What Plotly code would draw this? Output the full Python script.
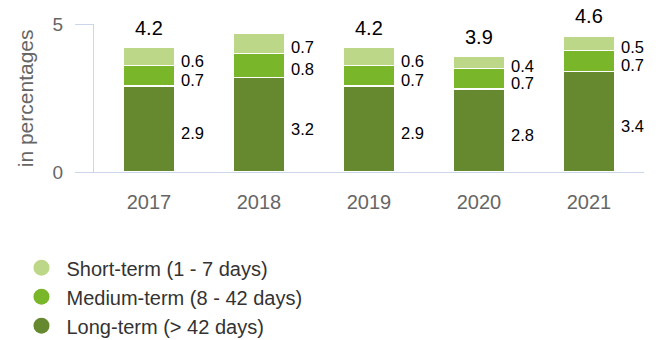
import plotly.graph_objects as go

years = ["2017", "2018", "2019", "2020", "2021"]
long_term = [2.9, 3.2, 2.9, 2.8, 3.4]
medium_term = [0.7, 0.8, 0.7, 0.7, 0.7]
short_term = [0.6, 0.7, 0.6, 0.4, 0.5]
# totals printed above the bars (none printed for 2018)
total_labels = ["4.2", "", "4.2", "3.9", "4.6"]

series = [
    ("Long-term (> 42 days)", long_term, "#66882f"),
    ("Medium-term (8 - 42 days)", medium_term, "#79b62a"),
    ("Short-term (1 - 7 days)", short_term, "#bcd787"),
]

AXIS = "#ccd6eb"
FONT = "Arial, Liberation Sans, sans-serif"

fig = go.Figure()
for name, vals, color in series:
    fig.add_trace(go.Bar(
        x=years, y=vals, name=name, showlegend=False,
        marker=dict(color=color, line=dict(color="white", width=1.5)),
        hoverinfo="y",
    ))

# legend entries with round symbols, short-term listed first
for name, vals, color in reversed(series):
    fig.add_trace(go.Scatter(
        x=[None], y=[None], mode="markers", name=name,
        marker=dict(symbol="circle", size=20, color=color),
    ))

annotations = []
for i, yr in enumerate(years):
    base = 0.0
    for name, vals, color in series:
        v = vals[i]
        annotations.append(dict(
            x=i, y=base + v / 2, text=f"{v:.1f}", showarrow=False,
            xanchor="left", yanchor="middle", xshift=30, yshift=-4,
            font=dict(size=16.5, color="#000000", family=FONT),
        ))
        base += v
    if total_labels[i]:
        annotations.append(dict(
            x=i, y=base, text=total_labels[i], showarrow=False,
            xanchor="center", yanchor="middle", yshift=20,
            font=dict(size=20, color="#000000", family=FONT),
        ))

# vertical axis title
annotations.append(dict(
    xref="paper", yref="paper", x=-0.125, y=0.5, text="in percentages",
    textangle=-90, showarrow=False, xanchor="center", yanchor="middle",
    font=dict(size=21, color="#666666", family=FONT),
))

fig.update_layout(
    width=659, height=340,
    margin=dict(l=94, r=15, t=24, b=168, autoexpand=False),
    barmode="stack", bargap=0.535,
    plot_bgcolor="white", paper_bgcolor="white",
    font=dict(family=FONT, color="#666666", size=20),
    annotations=annotations,
    showlegend=True,
    legend=dict(
        xref="container", yref="container", x=0.025, y=0.27,
        xanchor="left", yanchor="top", traceorder="normal",
        font=dict(size=20, color="#333333", family=FONT),
        itemsizing="trace", itemwidth=40,
        bgcolor="rgba(0,0,0,0)",
    ),
    xaxis=dict(
        type="category", range=[-0.5, 4.5],
        showline=True, linecolor=AXIS, linewidth=1,
        ticks="", showgrid=False, zeroline=False,
        tickfont=dict(size=20, color="#666666"),
        ticklabelstandoff=12,
    ),
    yaxis=dict(
        range=[0, 5], tickvals=[0, 5], ticktext=["0", "5"],
        showline=True, linecolor=AXIS, linewidth=1,
        ticks="outside", ticklen=18, tickcolor=AXIS, tickwidth=1,
        showgrid=False, zeroline=False,
        tickfont=dict(size=19, color="#666666"),
        ticklabelstandoff=8,
    ),
)

fig.write_html("out.html")
